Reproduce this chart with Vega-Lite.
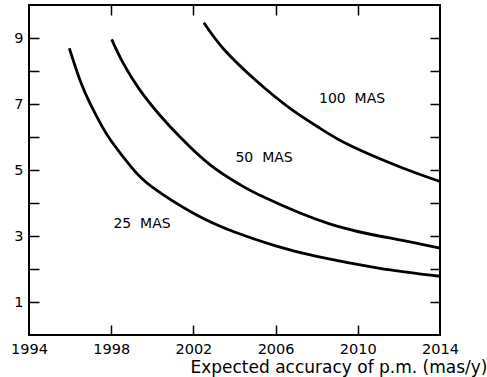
{
  "$schema": "https://vega.github.io/schema/vega-lite/v6.json",
  "width": 411,
  "height": 330,
  "autosize": "none",
  "padding": {"left": 29, "top": 5, "right": 47, "bottom": 42},
  "background": "white",
  "config": {
    "view": {"stroke": "black", "strokeWidth": 2},
    "font": "DejaVu Sans",
    "axis": {"domain": false, "grid": false, "labelFont": "DejaVu Sans", "labelColor": "black", "tickColor": "black", "tickWidth": 1.5, "titleColor": "black", "titleFont": "DejaVu Sans"}
  },
  "datasets": {
    "curves": [
      {"curve": "25 MAS", "year": 1995.96, "value": 8.69},
      {"curve": "25 MAS", "year": 1996.5, "value": 7.69},
      {"curve": "25 MAS", "year": 1997.0, "value": 6.98},
      {"curve": "25 MAS", "year": 1997.5, "value": 6.38},
      {"curve": "25 MAS", "year": 1998.0, "value": 5.88},
      {"curve": "25 MAS", "year": 1999.0, "value": 5.07},
      {"curve": "25 MAS", "year": 2000.0, "value": 4.48},
      {"curve": "25 MAS", "year": 2002.0, "value": 3.69},
      {"curve": "25 MAS", "year": 2004.0, "value": 3.12},
      {"curve": "25 MAS", "year": 2006.0, "value": 2.7},
      {"curve": "25 MAS", "year": 2008.0, "value": 2.38},
      {"curve": "25 MAS", "year": 2011.0, "value": 2.03},
      {"curve": "25 MAS", "year": 2014.0, "value": 1.78},
      {"curve": "50 MAS", "year": 1998.02, "value": 8.96},
      {"curve": "50 MAS", "year": 1998.59, "value": 8.23},
      {"curve": "50 MAS", "year": 1999.4, "value": 7.42},
      {"curve": "50 MAS", "year": 2000.37, "value": 6.66},
      {"curve": "50 MAS", "year": 2001.35, "value": 6.0},
      {"curve": "50 MAS", "year": 2002.83, "value": 5.15},
      {"curve": "50 MAS", "year": 2004.29, "value": 4.55},
      {"curve": "50 MAS", "year": 2005.42, "value": 4.18},
      {"curve": "50 MAS", "year": 2008.66, "value": 3.36},
      {"curve": "50 MAS", "year": 2011.9, "value": 2.9},
      {"curve": "50 MAS", "year": 2014.0, "value": 2.63},
      {"curve": "100 MAS", "year": 2002.51, "value": 9.46},
      {"curve": "100 MAS", "year": 2003.48, "value": 8.66},
      {"curve": "100 MAS", "year": 2005.1, "value": 7.68},
      {"curve": "100 MAS", "year": 2006.72, "value": 6.86},
      {"curve": "100 MAS", "year": 2008.17, "value": 6.26},
      {"curve": "100 MAS", "year": 2009.63, "value": 5.74},
      {"curve": "100 MAS", "year": 2012.06, "value": 5.09},
      {"curve": "100 MAS", "year": 2014.0, "value": 4.65}
    ],
    "labels": [
      {"label": "100\u00a0 MAS", "year": 2009.72, "value": 7.15},
      {"label": "50\u00a0 MAS", "year": 2005.44, "value": 5.36},
      {"label": "25\u00a0 MAS", "year": 1999.5, "value": 3.36}
    ]
  },
  "layer": [
    {
      "data": {"name": "curves"},
      "mark": {"type": "line", "color": "black", "strokeWidth": 2.8, "interpolate": "natural"},
      "encoding": {
        "x": {
          "field": "year", "type": "quantitative",
          "scale": {"domain": [1994, 2014], "nice": false, "zero": false},
          "axis": {
            "orient": "bottom", "values": [1994, 1998, 2002, 2006, 2010, 2014], "format": "d",
            "ticks": false, "labelPadding": 7, "labelFontSize": 14.5, "labelFlush": false, "labelOverlap": false,
            "title": "Expected accuracy of p.m. (mas/y)", "titleFontSize": 17, "titleFontWeight": "normal",
            "titleAnchor": "end", "titleAlign": "right", "titleX": 458, "titleY": 37, "titleBaseline": "alphabetic"
          }
        },
        "y": {
          "field": "value", "type": "quantitative",
          "scale": {"domain": [0, 10], "nice": false, "zero": false},
          "axis": {"orient": "left", "values": [1, 3, 5, 7, 9], "ticks": false, "labelPadding": 6, "labelFontSize": 14.5, "labelOverlap": false, "title": null}
        },
        "detail": {"field": "curve", "type": "nominal"}
      }
    },
    {
      "data": {"name": "labels"},
      "mark": {"type": "text", "color": "black", "fontSize": 14, "font": "DejaVu Sans", "align": "center", "baseline": "middle"},
      "encoding": {
        "x": {"field": "year", "type": "quantitative", "axis": null},
        "y": {"field": "value", "type": "quantitative", "axis": null},
        "text": {"field": "label", "type": "nominal"}
      }
    },
    {
      "data": {"name": "curves"},
      "mark": {"type": "line", "strokeOpacity": 0},
      "encoding": {
        "x": {"field": "year", "type": "quantitative", "axis": {"orient": "bottom", "values": [1998, 2002, 2006, 2010], "labels": false, "tickSize": -10, "title": null}},
        "y": {"field": "value", "type": "quantitative", "axis": {"orient": "left", "values": [1, 2, 3, 4, 5, 6, 7, 8, 9], "labels": false, "tickSize": -10, "title": null}},
        "detail": {"field": "curve", "type": "nominal"}
      }
    },
    {
      "data": {"name": "curves"},
      "mark": {"type": "line", "strokeOpacity": 0},
      "encoding": {
        "x": {"field": "year", "type": "quantitative", "axis": {"orient": "top", "values": [1998, 2002, 2006, 2010], "labels": false, "tickSize": -10, "title": null}},
        "y": {"field": "value", "type": "quantitative", "axis": {"orient": "right", "values": [1, 2, 3, 4, 5, 6, 7, 8, 9], "labels": false, "tickSize": -10, "title": null}},
        "detail": {"field": "curve", "type": "nominal"}
      }
    }
  ],
  "resolve": {"axis": {"x": "independent", "y": "independent"}}
}
